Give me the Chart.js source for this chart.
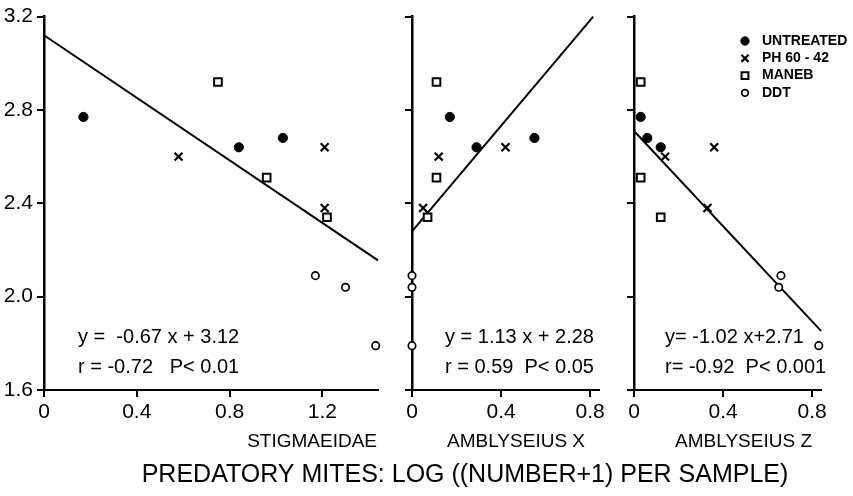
<!DOCTYPE html>
<html><head><meta charset="utf-8">
<script src="https://cdn.jsdelivr.net/npm/chart.js@4/dist/chart.umd.min.js"></script>
<style>
html,body{margin:0;padding:0;background:#fff;}
#wrap{position:relative;width:853px;height:496px;overflow:hidden;background:#fff;}
#wrap canvas{position:absolute;left:0;top:0;}
</style></head><body>
<div id="wrap">
<canvas id="c0" width="853" height="496"></canvas>
<canvas id="c1" width="853" height="496"></canvas>
<canvas id="c2" width="853" height="496"></canvas>
</div>
<script>
// ---------------- DATA ----------------
const panelNames = ['STIGMAEIDAE', 'AMBLYSEIUS X', 'AMBLYSEIUS Z'];
const treatments = ['UNTREATED', 'PH 60 - 42', 'MANEB', 'DDT'];
const mainTitle = 'PREDATORY MITES: LOG ((NUMBER+1) PER SAMPLE)';

// vertical values (shared by all three panels), one array per treatment
const untreatedY = [2.77, 2.64, 2.68];
const ph6042Y    = [2.60, 2.64, 2.38];
const manebY     = [2.92, 2.51, 2.34];
const ddtY       = [2.09, 2.04, 1.79];

// horizontal values per panel, same order as the arrays above
const stigUntreatedX = [0.17, 0.84, 1.03];
const stigPh6042X    = [0.58, 1.21, 1.21];
const stigManebX     = [0.75, 0.96, 1.22];
const stigDdtX       = [1.17, 1.30, 1.43];

const ambXUntreatedX = [0.17, 0.29, 0.55];
const ambXPh6042X    = [0.12, 0.42, 0.05];
const ambXManebX     = [0.11, 0.11, 0.07];
const ambXDdtX       = [0.00, 0.00, 0.00];

const ambZUntreatedX = [0.03, 0.12, 0.06];
const ambZPh6042X    = [0.14, 0.36, 0.33];
const ambZManebX     = [0.03, 0.03, 0.12];
const ambZDdtX       = [0.66, 0.65, 0.83];

// regression lines (from the printed equations)
const slopes     = [-0.67, 1.13, -1.02];
const intercepts = [3.12, 2.28, 2.71];
const lineXStart = [0, 0, 0];
const lineXEnd   = [1.44, 0.814, 0.84];
const eqTexts = ['y =  -0.67 x + 3.12', 'y = 1.13 x + 2.28', 'y= -1.02 x+2.71'];
const rTexts  = ['r = -0.72   P< 0.01', 'r = 0.59  P< 0.05', 'r= -0.92  P< 0.001'];

// axes
const yMin = 1.6, yMax = 3.2;
const yTickLabels = ['1.6', '2.0', '2.4', '2.8', '3.2'];
const xMaxes = [1.44, 0.84, 0.84];
const xTickLabels = [['0', '0.4', '0.8', '1.2'], ['0', '0.4', '0.8'], ['0', '0.4', '0.8']];

// ---------------- STYLE / LAYOUT ----------------
const FONT = '"Liberation Sans", Arial, "DejaVu Sans", sans-serif';
const W = 853, H = 496;
const geom = [
  {left: 44, right: 378, yAxisW: 44, showY: true},
  {left: 412, right: 599, yAxisW: 20, showY: false},
  {left: 634, right: 821, yAxisW: 20, showY: false}
];
const TOP = 15, BOTTOM = 390, XAXIS_H = 40;

const markerStyles = [
  {pointStyle: 'circle',   radius: 4.6, backgroundColor: '#000', borderColor: '#000', borderWidth: 1},
  {pointStyle: 'crossRot', radius: 5.6, backgroundColor: '#000', borderColor: '#000', borderWidth: 2.2},
  {pointStyle: 'rect',     radius: 5.4, backgroundColor: '#fff', borderColor: '#000', borderWidth: 2},
  {pointStyle: 'circle',   radius: 3.7, backgroundColor: '#fff', borderColor: '#000', borderWidth: 1.7}
];

const panelX = [
  [stigUntreatedX, stigPh6042X, stigManebX, stigDdtX],
  [ambXUntreatedX, ambXPh6042X, ambXManebX, ambXDdtX],
  [ambZUntreatedX, ambZPh6042X, ambZManebX, ambZDdtX]
];
const treatmentY = [untreatedY, ph6042Y, manebY, ddtY];

function pts(xs, ys) { return xs.map((x, i) => ({x: x, y: ys[i]})); }

const textPlugin = {
  id: 'panelText',
  afterDraw(chart, args, opts) {
    const ctx = chart.ctx;
    (opts.items || []).forEach(it => {
      ctx.save();
      ctx.font = (it.weight || 'normal') + ' ' + it.size + 'px ' + FONT;
      ctx.fillStyle = '#000';
      ctx.textAlign = it.align || 'left';
      ctx.textBaseline = 'middle';
      ctx.fillText(it.text, it.x, it.y);
      ctx.restore();
    });
    if (opts.legend) {
      const L = opts.legend;
      treatments.forEach((name, i) => {
        const st = markerStyles[i];
        const y = L.y0 + i * L.dy;
        ctx.save();
        ctx.fillStyle = st.backgroundColor;
        ctx.strokeStyle = st.borderColor;
        ctx.lineWidth = st.borderWidth;
        Chart.helpers.drawPoint(ctx, {pointStyle: st.pointStyle, radius: st.radius * 0.9, rotation: 0, borderWidth: st.borderWidth}, L.mx, y);
        ctx.restore();
        ctx.save();
        ctx.font = 'bold ' + L.size + 'px ' + FONT;
        ctx.fillStyle = '#000';
        ctx.textAlign = 'left';
        ctx.textBaseline = 'middle';
        ctx.fillText(name, L.tx, y);
        ctx.restore();
      });
    }
  }
};

function makePanel(p) {
  const g = geom[p];
  const datasets = treatments.map((name, t) => Object.assign({
    label: name,
    data: pts(panelX[p][t], treatmentY[t]),
    showLine: false,
    clip: false,
    order: 0
  }, markerStyles[t]));
  const lx = [lineXStart[p], lineXEnd[p]];
  const ly = lx.map(x => slopes[p] * x + intercepts[p]);
  datasets.push({
    label: 'fit',
    data: pts(lx, ly),
    showLine: true,
    pointRadius: 0,
    borderColor: '#000',
    borderWidth: 2,
    fill: false,
    clip: 3,
    order: 10
  });

  const items = [
    {text: eqTexts[p], x: [78, 445, 665][p], y: 337, size: 20},
    {text: rTexts[p],  x: [78, 445, 665][p], y: 367, size: 20},
    {text: panelNames[p], x: [377, 585, 812][p], y: 442, size: 19, align: 'right'}
  ];
  if (p === 0) items.push({text: mainTitle, x: 465, y: 475, size: 25, align: 'center'});

  const xLabels = xTickLabels[p];
  return new Chart(document.getElementById('c' + p), {
    type: 'scatter',
    data: {datasets: datasets},
    plugins: [textPlugin],
    options: {
      responsive: false,
      animation: false,
      devicePixelRatio: 1,
      layout: {padding: {left: g.left - g.yAxisW, right: W - g.right, top: TOP, bottom: H - BOTTOM - XAXIS_H}},
      plugins: {
        legend: {display: false},
        tooltip: {enabled: false},
        panelText: {
          items: items,
          legend: p === 2 ? {mx: 745, tx: 762, y0: 41, dy: 17.3, size: 14} : null
        }
      },
      scales: {
        x: {
          type: 'linear', min: 0, max: xMaxes[p],
          afterFit: s => { s.height = XAXIS_H; },
          border: {display: true, color: '#000', width: 2},
          grid: {display: true, drawOnChartArea: false, drawTicks: true, tickLength: 7, color: '#000', lineWidth: 2},
          ticks: {
            stepSize: 0.4, includeBounds: false, autoSkip: false, maxRotation: 0,
            color: '#000', padding: 3, font: {family: FONT, size: 21},
            callback: (v) => { const i = Math.round(v / 0.4); return xLabels[i] !== undefined ? xLabels[i] : ''; }
          }
        },
        y: {
          type: 'linear', min: yMin, max: yMax,
          afterFit: s => { s.width = g.yAxisW; },
          border: {display: true, color: '#000', width: 2.5},
          grid: {display: true, drawOnChartArea: false, drawTicks: true, tickLength: 7, color: '#000', lineWidth: 2},
          ticks: {
            stepSize: 0.4, includeBounds: false, autoSkip: false,
            color: '#000', padding: 4, font: {family: FONT, size: 21},
            callback: (v) => { if (!g.showY) return ''; const i = Math.round((v - yMin) / 0.4); return yTickLabels[i] !== undefined ? yTickLabels[i] : ''; }
          }
        }
      }
    }
  });
}

[0, 1, 2].forEach(makePanel);
</script>
</body></html>
